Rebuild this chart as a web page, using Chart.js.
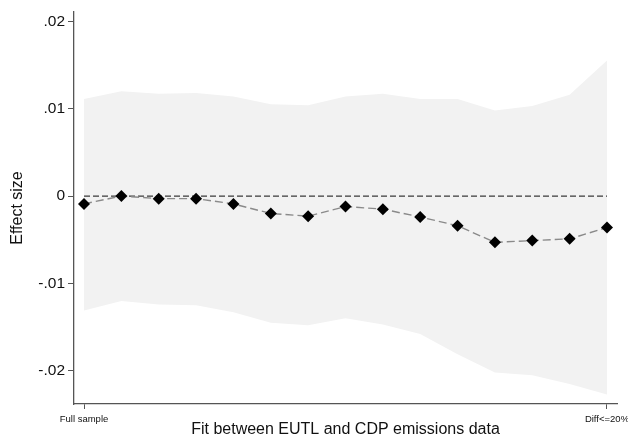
<!DOCTYPE html>
<html>
<head>
<meta charset="utf-8">
<script src="https://cdn.jsdelivr.net/npm/chart.js@4/dist/chart.umd.min.js"></script>
<style>
html,body{margin:0;padding:0;background:#fff;}
#wrap{width:628px;height:439px;position:relative;}
</style>
</head>
<body>
<div id="wrap"><canvas id="c" width="628" height="439"></canvas></div>
<script>
// Data
const categories = ["Full sample","","","","","","","","","","","","","","Diff<=20%"];
const effect = [-0.0009, 0.0000, -0.0003, -0.0003, -0.0009, -0.0020, -0.0023, -0.0012, -0.0015, -0.0024, -0.0034, -0.0053, -0.0051, -0.0049, -0.0036];
const upper  = [0.0111, 0.0120, 0.0117, 0.0118, 0.0114, 0.0105, 0.0104, 0.0114, 0.0117, 0.0111, 0.0111, 0.0098, 0.0103, 0.0116, 0.0155];
const lower  = [-0.0131, -0.0120, -0.0124, -0.0125, -0.0133, -0.0145, -0.0148, -0.0140, -0.0147, -0.0158, -0.0181, -0.0202, -0.0205, -0.0215, -0.0227];
const xTickIndex = [0, 14];
const xTickLabels = ["Full sample", "Diff<=20%"];
const yTicks = [-0.02, -0.01, 0, 0.01, 0.02];
const yTickLabels = ["-.02", "-.01", "0", ".01", ".02"];
const zeroLine = [0, 0];

const pts = arr => arr.map((v, i) => ({x: i, y: v}));
const FONT = "'Liberation Sans', Arial, sans-serif";

new Chart(document.getElementById('c'), {
  type: 'line',
  data: {
    datasets: [
      {
        label: 'lower', data: pts(lower), borderWidth: 0, borderColor: 'rgba(0,0,0,0)',
        pointRadius: 0, fill: false, tension: 0, order: 4
      },
      {
        label: 'upper', data: pts(upper), borderWidth: 0, borderColor: 'rgba(0,0,0,0)',
        backgroundColor: '#f2f2f2', pointRadius: 0, fill: '-1', tension: 0, order: 4
      },
      {
        label: 'zero', data: zeroLine.map((v, i) => ({x: xTickIndex[i], y: v})),
        borderColor: '#3a3a3a', borderWidth: 1.2, borderDash: [6, 3], pointRadius: 0,
        fill: false, order: 3
      },
      {
        label: 'effect', data: pts(effect), borderColor: '#8a8a8a', borderWidth: 1.4,
        borderDash: [8, 4], tension: 0, fill: false,
        pointStyle: 'rectRot', pointRadius: 6, pointBackgroundColor: '#000',
        pointBorderColor: '#000', pointBorderWidth: 0, order: 1
      }
    ]
  },
  options: {
    responsive: false,
    animation: false,
    devicePixelRatio: 1,
    layout: { padding: { top: 12, right: 11, left: 0, bottom: 0 } },
    plugins: { legend: { display: false }, tooltip: { enabled: false } },
    scales: {
      x: {
        type: 'linear', min: -0.268, max: 14.268,
        afterBuildTicks: s => { s.ticks = xTickIndex.map(v => ({value: v})); },
        afterFit: s => { s.height = 35; s.paddingLeft = 0; s.paddingRight = 0; },
        ticks: {
          autoSkip: false, maxRotation: 0, minRotation: 0, padding: 5,
          color: '#111', font: { family: FONT, size: 9.5 },
          callback: (v) => { const k = xTickIndex.indexOf(v); return k >= 0 ? xTickLabels[k] : ''; }
        },
        grid: { drawOnChartArea: false, drawTicks: true, tickLength: 5, color: '#555', lineWidth: 1 },
        border: { display: true, color: '#555', width: 1.3 },
        title: {
          display: true, text: 'Fit between EUTL and CDP emissions data',
          color: '#111', font: { family: FONT, size: 16 }, padding: { top: 0, bottom: 0 }
        }
      },
      y: {
        type: 'linear', min: -0.0238, max: 0.02106,
        afterBuildTicks: s => { s.ticks = yTicks.map(v => ({value: v})); },
        afterFit: s => { s.width = 74; s.paddingTop = 0; s.paddingBottom = 0; },
        ticks: {
          padding: 3, color: '#111', font: { family: FONT, size: 15.5 },
          callback: (v) => { const k = yTicks.findIndex(t => Math.abs(t - v) < 1e-9); return k >= 0 ? yTickLabels[k] : ''; }
        },
        grid: { drawOnChartArea: false, drawTicks: true, tickLength: 6, color: '#555', lineWidth: 1 },
        border: { display: true, color: '#555', width: 1.3 },
        title: {
          display: true, text: 'Effect size', color: '#111',
          font: { family: FONT, size: 16 }, padding: { top: 8, bottom: 0 }
        }
      }
    }
  }
});
</script>
</body>
</html>
